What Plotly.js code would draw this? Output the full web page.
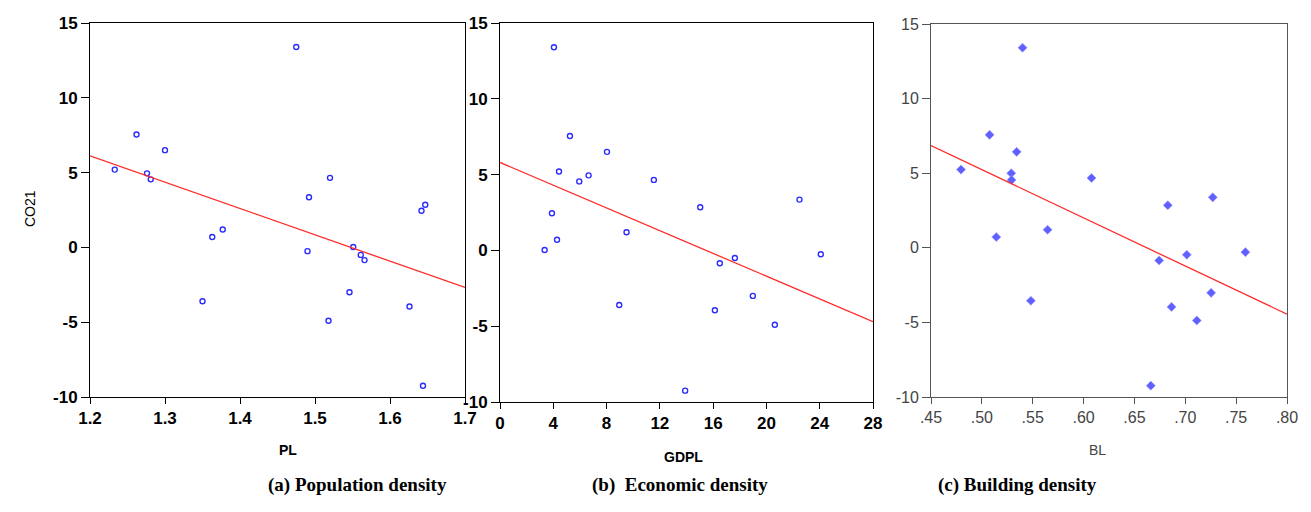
<!DOCTYPE html>
<html>
<head>
<meta charset="utf-8">
<script src="https://cdn.plot.ly/plotly-3.0.1.min.js"></script>
<style>html,body{margin:0;padding:0;background:#fff;}#chart{width:1311px;height:512px;}</style>
</head>
<body>
<div id="chart"></div>
<script>
// ---- data ----
const co2 = [13.4, 7.55, 6.5, 5.2, 4.95, 4.55, 4.65, 2.45, 2.85, 3.35, 0.03, 0.7, 1.2, -0.85, -0.5, -0.25, -3.6, -3.0, -3.95, -4.9, -9.25];
const PL  = [1.475, 1.262, 1.300, 1.233, 1.276, 1.281, 1.520, 1.642, 1.647, 1.492, 1.551, 1.363, 1.377, 1.566, 1.561, 1.490, 1.350, 1.546, 1.626, 1.518, 1.644];
const GDPL = [4.05, 5.25, 8.03, 4.43, 6.65, 5.95, 11.55, 3.9, 15.03, 22.48, 3.35, 4.28, 9.5, 16.5, 17.63, 24.08, 8.95, 18.98, 16.13, 20.63, 13.9];
// building density panel (19 visible points)
const BL      = [0.540, 0.5076, 0.5342, 0.4795, 0.5289, 0.5292, 0.6078, 0.6828, 0.727, 0.5142, 0.5646, 0.6743, 0.7015, 0.7591, 0.5482, 0.7254, 0.6865, 0.7113, 0.6661];
const co2BL   = [13.41, 7.57, 6.43, 5.24, 5.0, 4.55, 4.68, 2.85, 3.38, 0.72, 1.21, -0.85, -0.47, -0.29, -3.55, -3.02, -3.96, -4.87, -9.24];
// fitted lines (end points)
const fitPLx = [1.2, 1.7],  fitPLy = [6.12, -2.68];
const fitGDx = [0, 28],     fitGDy = [5.8, -4.7];
const fitBLx = [0.45, 0.80], fitBLy = [6.85, -4.45];
const ticksPL = [1.2, 1.3, 1.4, 1.5, 1.6, 1.7];
const tickTextPL = ['1.2', '1.3', '1.4', '1.5', '1.6', '1.7'];
const ticksGD = [0, 4, 8, 12, 16, 20, 24, 28];
const tickTextGD = ['0', '4', '8', '12', '16', '20', '24', '28'];
const ticksBL = [0.45, 0.50, 0.55, 0.60, 0.65, 0.70, 0.75, 0.80];
const tickTextBL = ['.45', '.50', '.55', '.60', '.65', '.70', '.75', '.80'];
const ticksY = [-10, -5, 0, 5, 10, 15];
const tickTextY = ['-10', '-5', '0', '5', '10', '15'];
const captions = ['(a) Population density', '(b)  Economic density', '(c) Building density'];
const xTitles = ['PL', 'GDPL', 'BL'];
const yTitle = 'CO21';

const W = 1311, H = 512;
const px = v => v / W, py = v => (H - v) / H;

const boldFont = {family: 'Arial, Liberation Sans, sans-serif', size: 17, color: '#000', weight: 'bold'};
const grayFont = {family: 'Arial, Liberation Sans, sans-serif', size: 16, color: '#444'};

const markA = {symbol: 'circle-open', size: 5, color: '#2b2bff', line: {width: 1.4, color: '#2b2bff'}};
const markC = {symbol: 'diamond', size: 7, color: '#6060ff', line: {width: 0.6, color: '#9a9aff'}};
const lineFit = {color: '#ff2a2a', width: 1.3};

const traces = [
  {x: PL, y: co2, xaxis: 'x', yaxis: 'y', mode: 'markers', type: 'scatter', marker: markA},
  {x: fitPLx, y: fitPLy, xaxis: 'x', yaxis: 'y', mode: 'lines', type: 'scatter', line: lineFit},
  {x: GDPL, y: co2, xaxis: 'x2', yaxis: 'y2', mode: 'markers', type: 'scatter', marker: markA},
  {x: fitGDx, y: fitGDy, xaxis: 'x2', yaxis: 'y2', mode: 'lines', type: 'scatter', line: lineFit},
  {x: BL, y: co2BL, xaxis: 'x3', yaxis: 'y3', mode: 'markers', type: 'scatter', marker: markC},
  {x: fitBLx, y: fitBLy, xaxis: 'x3', yaxis: 'y3', mode: 'lines', type: 'scatter', line: lineFit}
];

function xa(dom, range, ticks, ttext, anchor, font, color) {
  return {domain: dom, range: range, anchor: anchor, showgrid: false, zeroline: false,
    showline: true, linecolor: color, linewidth: 1, mirror: true,
    ticks: 'outside', ticklen: 6, tickcolor: color, tickwidth: 1,
    tickmode: 'array', tickvals: ticks, ticktext: ttext, tickfont: font, ticklabelstandoff: 0};
}
function ya(dom, anchor, font, color) {
  return {domain: dom, range: [-10, 15], anchor: anchor, showgrid: false, zeroline: false,
    showline: true, linecolor: color, linewidth: 1, mirror: true,
    ticks: 'outside', ticklen: 8, tickcolor: color, tickwidth: 1,
    tickmode: 'array', tickvals: ticksY, ticktext: tickTextY, tickfont: font, ticklabelstandoff: 0};
}

const layout = {
  width: W, height: H, margin: {l: 0, r: 0, t: 0, b: 0},
  paper_bgcolor: '#fff', plot_bgcolor: '#fff', showlegend: false,
  xaxis:  xa([px(90), px(465)], [1.2, 1.7], ticksPL, tickTextPL, 'y', boldFont, '#000'),
  yaxis:  ya([py(397), py(23)], 'x', boldFont, '#000'),
  xaxis2: xa([px(500), px(873)], [0, 28], ticksGD, tickTextGD, 'y2', boldFont, '#000'),
  yaxis2: ya([py(402), py(23)], 'x2', boldFont, '#000'),
  xaxis3: xa([px(931), px(1287)], [0.45, 0.80], ticksBL, tickTextBL, 'y3', grayFont, '#555'),
  yaxis3: ya([py(397), py(24)], 'x3', grayFont, '#555'),
  annotations: [
    {text: yTitle, x: px(20), y: py(209), xref: 'paper', yref: 'paper', showarrow: false, textangle: -90,
     font: {family: 'Arial, sans-serif', size: 14, color: '#000'}},
    {text: xTitles[0], x: px(277), y: py(460), xref: 'paper', yref: 'paper', showarrow: false,
     font: {family: 'Arial, sans-serif', size: 14, color: '#000', weight: 'bold'}},
    {text: xTitles[1], x: px(683), y: py(467), xref: 'paper', yref: 'paper', showarrow: false,
     font: {family: 'Arial, sans-serif', size: 14, color: '#000', weight: 'bold'}},
    {text: xTitles[2], x: px(1108), y: py(460), xref: 'paper', yref: 'paper', showarrow: false,
     font: {family: 'Arial, sans-serif', size: 14, color: '#444'}},
    {text: captions[0], x: px(266), y: py(498), xref: 'paper', yref: 'paper', showarrow: false,
     font: {family: 'Liberation Serif, Times New Roman, serif', size: 19, color: '#000', weight: 'bold'}},
    {text: captions[1], x: px(680), y: py(498), xref: 'paper', yref: 'paper', showarrow: false,
     font: {family: 'Liberation Serif, Times New Roman, serif', size: 19, color: '#000', weight: 'bold'}},
    {text: captions[2], x: px(1099), y: py(498), xref: 'paper', yref: 'paper', showarrow: false,
     font: {family: 'Liberation Serif, Times New Roman, serif', size: 19, color: '#000', weight: 'bold'}}
  ]
};

Plotly.newPlot('chart', traces, layout, {displayModeBar: false, staticPlot: true});
</script>
</body>
</html>
